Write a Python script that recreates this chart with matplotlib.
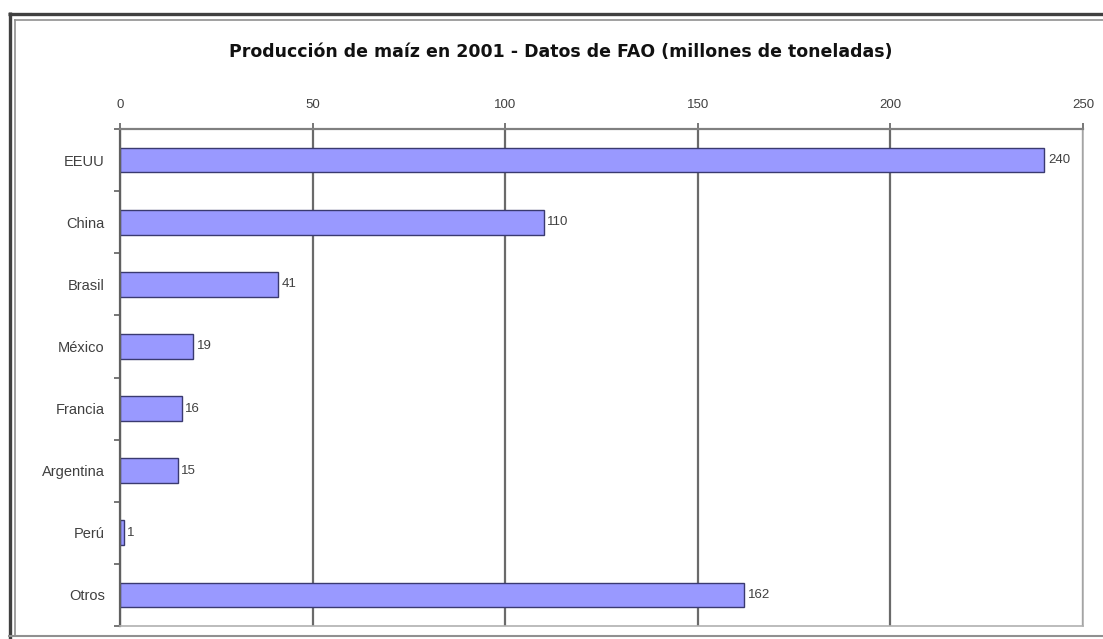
import matplotlib
matplotlib.use("Agg")
import matplotlib.pyplot as plt
from matplotlib.lines import Line2D
from matplotlib.ticker import FixedLocator, NullFormatter, FixedFormatter

# ---- data ----
countries = ["EEUU", "China", "Brasil", "México", "Francia", "Argentina", "Perú", "Otros"]
production = [240, 110, 41, 19, 16, 15, 1, 162]
x_ticks = [0, 50, 100, 150, 200, 250]
title = "Producción de maíz en 2001 - Datos de FAO (millones de toneladas)"

W, H = 1103, 639
DPI = 100
plt.rcParams['font.family'] = ['Liberation Sans', 'DejaVu Sans']

fig = plt.figure(figsize=(W / DPI, H / DPI), dpi=DPI, facecolor='white')

def fx(px):
    return px / W

def fy(py):
    return 1 - py / H

# plot area
left, right, top, bottom = 120, 1083, 129, 626
ax = fig.add_axes([fx(left), fy(bottom), fx(right) - fx(left), fy(top) - fy(bottom)])
ax.set_facecolor('white')

n = len(countries)
ypos = list(range(n))
ax.barh(ypos, production, height=0.4, color='#9999FF', edgecolor='#3a3a70', linewidth=1.0, zorder=3)

ax.set_xlim(0, 250)
ax.set_ylim(n - 0.5, -0.5)

# x axis on top
ax.xaxis.set_ticks_position('top')
ax.xaxis.set_label_position('top')
ax.set_xticks(x_ticks)
ax.set_xticklabels([str(t) for t in x_ticks])
ax.tick_params(axis='x', which='major', direction='out', length=4, width=1.2, color='#606060',
               pad=9, labelsize=9.5, labelcolor='#404040')
ax.grid(axis='x', color='#6a6a6a', linewidth=1.6, zorder=1)

# y axis: ticks at category boundaries, labels at centers
ax.yaxis.set_major_locator(FixedLocator([i - 0.5 for i in range(n + 1)]))
ax.yaxis.set_major_formatter(NullFormatter())
ax.yaxis.set_minor_locator(FixedLocator(ypos))
ax.yaxis.set_minor_formatter(FixedFormatter(countries))
ax.tick_params(axis='y', which='major', direction='out', length=4, width=1.2, color='#606060')
ax.tick_params(axis='y', which='minor', length=0, pad=11, labelsize=10.5, labelcolor='#404040')

for side, col, lw in [('top', '#808080', 1.6), ('left', '#606060', 1.6),
                      ('right', '#b0b0b0', 1.2), ('bottom', '#b0b0b0', 1.2)]:
    ax.spines[side].set_color(col)
    ax.spines[side].set_linewidth(lw)
    ax.spines[side].set_zorder(4)

# value labels
for y, v in zip(ypos, production):
    ax.annotate(str(v), xy=(v, y), xytext=(2.5, 0), textcoords='offset points',
                ha='left', va='center', fontsize=9.5, color='#404040')

# title
fig.text(fx(561), fy(52), title, ha='center', va='center', fontsize=12.5,
         fontweight='bold', color='#111111', family=['DejaVu Sans'])

# outer frame (Excel-like chart border)
def hline(y, x0, x1, color, lw):
    fig.add_artist(Line2D([fx(x0), fx(x1)], [fy(y), fy(y)], color=color, linewidth=lw,
                          transform=fig.transFigure, solid_capstyle='butt'))

def vline(x, y0, y1, color, lw):
    fig.add_artist(Line2D([fx(x), fx(x)], [fy(y0), fy(y1)], color=color, linewidth=lw,
                          transform=fig.transFigure, solid_capstyle='butt'))

hline(14, 8, W, '#404040', 2.4)
vline(10, 12, H, '#404040', 2.4)
hline(20, 14, W, '#909090', 1.2)
vline(14.5, 19, 637, '#909090', 1.2)
hline(636, 8, W, '#909090', 1.5)

fig.savefig('out.png', dpi=DPI, facecolor='white')
